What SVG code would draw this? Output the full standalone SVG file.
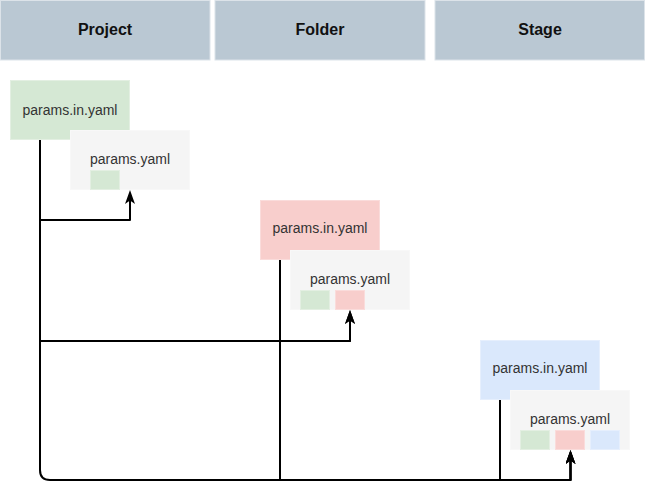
<svg xmlns="http://www.w3.org/2000/svg" width="645" height="490" viewBox="0 0 645 490">
<style>
.hdr{fill:#bac8d3;stroke:#dce3e9;stroke-width:1}
.ht{font-family:"Liberation Sans",Arial,sans-serif;font-size:16px;font-weight:bold;fill:#111;text-anchor:middle}
.t{font-family:"Liberation Sans",Arial,sans-serif;font-size:14px;fill:#333;text-anchor:middle}
.g{fill:#d5e8d4;stroke:#e3efe2;stroke-width:1}
.r{fill:#f8cecc;stroke:#fadcdb;stroke-width:1}
.b{fill:#dae8fc;stroke:#e6effd;stroke-width:1}
.gy{fill:#f5f5f5;stroke:#f8f8f8;stroke-width:1}
.e{fill:none;stroke:#000;stroke-width:2;stroke-linejoin:round}
</style>
<defs>
<marker id="arr" viewBox="0 0 14 10" refX="11" refY="5" markerWidth="14" markerHeight="10" markerUnits="userSpaceOnUse" orient="auto">
<path d="M0,0 L14,5 L0,10 L3.5,5 Z" fill="#000"/>
</marker>
</defs>
<rect width="645" height="490" fill="#fff"/>
<g id="hdr-project"><rect class="hdr" x="0.5" y="0.5" width="209.5" height="59.5"/><text class="ht" x="105" y="35">Project</text></g>
<g id="hdr-folder"><rect class="hdr" x="215" y="0.5" width="210" height="59.5"/><text class="ht" x="320" y="35">Folder</text></g>
<g id="hdr-stage"><rect class="hdr" x="435" y="0.5" width="209.5" height="59.5"/><text class="ht" x="540" y="35">Stage</text></g>

<g id="project-in"><rect class="g" x="10.5" y="80.5" width="119" height="59"/><text class="t" x="70" y="115">params.in.yaml</text></g>
<g id="project-out"><rect class="gy" x="70.5" y="130.5" width="119" height="59"/><text class="t" x="130" y="164">params.yaml</text><rect class="g" x="90.5" y="170.5" width="29" height="19"/></g>

<g id="folder-in"><rect class="r" x="260.5" y="200.5" width="119" height="59"/><text class="t" x="320" y="233">params.in.yaml</text></g>
<g id="folder-out"><rect class="gy" x="290.5" y="250.5" width="119" height="59"/><text class="t" x="350" y="284">params.yaml</text><rect class="g" x="300.5" y="290.5" width="29" height="19"/><rect class="r" x="335.5" y="290.5" width="29" height="19"/></g>

<g id="stage-in"><rect class="b" x="480.5" y="340.5" width="119" height="59"/><text class="t" x="540" y="373">params.in.yaml</text></g>
<g id="stage-out"><rect class="gy" x="510.5" y="390.5" width="119" height="59"/><text class="t" x="570" y="424">params.yaml</text><rect class="g" x="520.5" y="430.5" width="29" height="19"/><rect class="r" x="555.5" y="430.5" width="29" height="19"/><rect class="b" x="590.5" y="430.5" width="29" height="19"/></g>

<g id="connectors">
<path class="e" d="M40,140 V220 H130 V193" marker-end="url(#arr)"/>
<path class="e" d="M40,140 V341 H350 V313" marker-end="url(#arr)"/>
<path class="e" d="M40,140 V470 Q40,480 50,480 H570.5 V453" marker-end="url(#arr)"/>
<path class="e" d="M280,260 V341 H350 V313" marker-end="url(#arr)"/>
<path class="e" d="M280,260 V480 H570.5 V453" marker-end="url(#arr)"/>
<path class="e" d="M500,400 V480 H570.5 V453" marker-end="url(#arr)"/>
</g>
</svg>
